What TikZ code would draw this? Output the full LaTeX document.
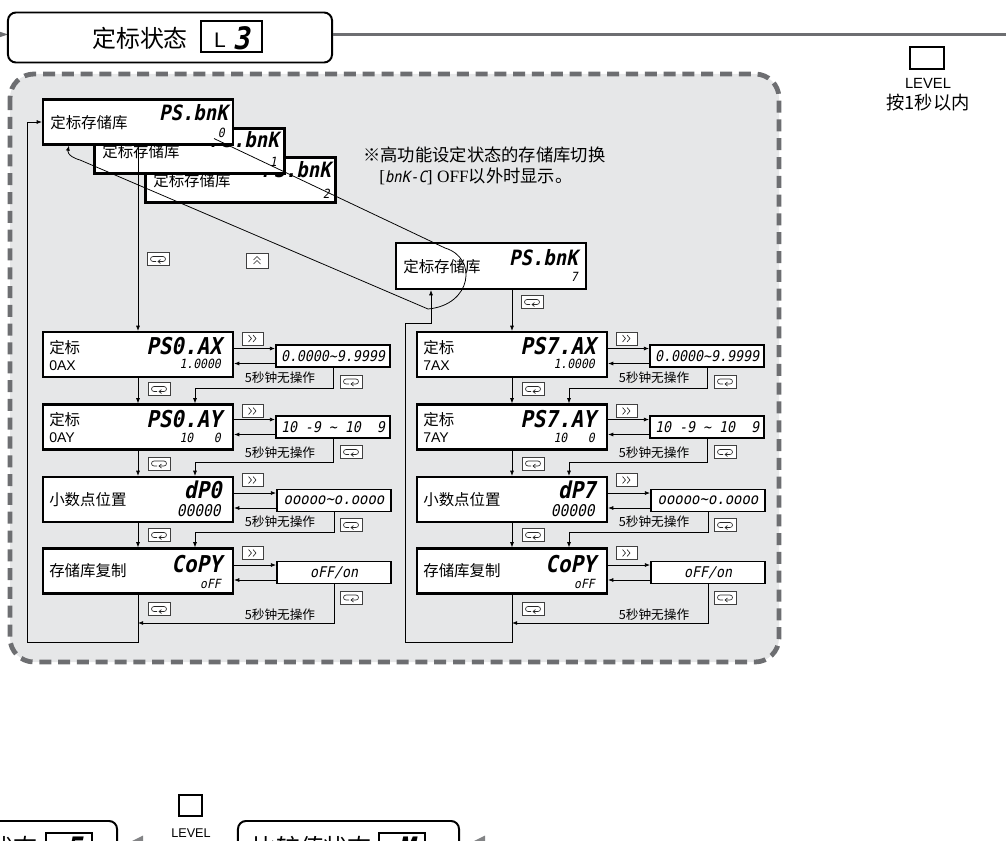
\documentclass[tikz,border=0pt]{standalone}
\usepackage{fontspec}
\setmainfont{Liberation Sans}
\newfontfamily\cjk{Noto Sans CJK SC}
\newfontfamily\serif{Liberation Serif}
\newfontfamily\segf{DejaVu Sans Mono}[FakeSlant=0.2,FakeStretch=0.9]
\usetikzlibrary{arrows.meta,calc}
\definecolor{bggray}{HTML}{E6E7E8}
\definecolor{dgray}{HTML}{6D6E71}

\newcommand\retkey[2]{%
  \node[key] (#1) at (#2) {};
  \begin{scope}[shift={(#1.center)}]
    \draw[sym] (5,-2.5) -- (-5,-2.5) arc[start angle=270,end angle=90,radius=2.5] -- (-2,2.5);
    \draw[sym] (5,-2.5) arc[start angle=270,end angle=450,radius=2.5] -- (0,2.5);
    \draw[sym] (2.5,0.5) -- (0,2.5) -- (2.5,4.5);
  \end{scope}}
\newcommand\fwkey[2]{%
  \node[key, minimum width=0.525cm] (#1) at (#2) {};
  \begin{scope}[shift={(#1.center)}]
    \draw[sym] (-4,-3.5) -- (-1,0) -- (-4,3.5) (0.5,-3.5) -- (3.5,0) -- (0.5,3.5);
  \end{scope}}
\newcommand\upkey[2]{%
  \node[key, minimum height=0.375cm] (#1) at (#2) {};
  \begin{scope}[shift={(#1.center)}]
    \draw[sym] (-3.5,-0.5) -- (0,-4) -- (3.5,-0.5) (-3.5,3.5) -- (0,0) -- (3.5,3.5);
  \end{scope}}

\begin{document}
\begin{tikzpicture}[x=0.025cm,y=-0.025cm,
  disp/.style={draw, line width=1.5pt, fill=white, inner sep=0pt, minimum width=4.75cm, minimum height=1.125cm},
  valbox/.style={draw, line width=1.3pt, fill=white, inner sep=0pt, minimum width=2.85cm, minimum height=0.55cm},
  key/.style={draw=black!75, line width=0.6pt, fill=white, inner sep=0pt, minimum width=0.55cm, minimum height=0.325cm},
  sym/.style={line width=0.45pt, black!85},
  conn/.style={line width=0.55pt, -{Latex[length=1.3mm,width=1mm]}},
  cjklab/.style={font=\cjk\fontsize{11}{13}\selectfont, inner sep=0pt, anchor=west},
  lat/.style={font=\fontsize{10}{12}\selectfont, inner sep=0pt, anchor=west},
  segL/.style={font=\segf\bfseries\fontsize{16.5}{17}\selectfont, inner sep=0pt, anchor=east},
  segB/.style={font=\segf\bfseries\fontsize{15}{16}\selectfont, inner sep=0pt, anchor=east},
  segS/.style={font=\segf\fontsize{9}{10}\selectfont, inner sep=0pt, anchor=east},
  segV/.style={font=\segf\fontsize{10.5}{11}\selectfont, inner sep=0pt},
  noop/.style={font=\cjk\fontsize{9}{10}\selectfont, inner sep=0pt},
  stbox/.style={draw, line width=1.4pt, rounded corners=0.2cm, fill=white, inner sep=0pt},
  segbox/.style={draw, line width=1pt, fill=white, inner sep=0pt, minimum width=1.15cm, minimum height=1.175cm},
]
\useasboundingbox (0,0) rectangle (1006,841);
\clip (0,0) rectangle (1006,841);

% ---------- dashed area ----------
\draw[line width=3.4pt, draw=dgray, fill=bggray, dash pattern=on 0.3cm off 0.17cm, rounded corners=0.6cm] (10,74) rectangle (779,662);

% ---------- header ----------
\fill[dgray] (-4,30.5) -- (8,34.5) -- (-4,38.5) -- cycle;
\node[stbox, minimum width=8.1cm, minimum height=1.25cm] (hdr) at (170,37.5) {};
\coordinate (hlEnd) at (1010,34.5);
\draw[line width=2.8pt, dgray] (hlEnd -| hdr.east) -- (hlEnd);
\node[font=\cjk\fontsize{17}{19}\selectfont, inner sep=0pt] (hdrt) at (140,38) {定标状态};
\node[draw, line width=1pt, minimum width=1.525cm, minimum height=0.775cm, inner sep=0pt] (hseg) at (231.5,36.5) {};
\node[font=\fontsize{15}{16}\selectfont, inner sep=0pt] (hL) at (220,40.5) {L};
\node[font=\segf\bfseries\fontsize{22}{22}\selectfont, inner sep=0pt] (h3) at (241,38.5) {3};

% ---------- LEVEL (top right) ----------
\node[draw, line width=0.8pt, minimum width=0.85cm, minimum height=0.55cm, inner sep=0pt] (lvk) at (927,58) {};
\node[font=\fontsize{10.5}{12}\selectfont, inner sep=0pt] (lvt) at (928,83) {LEVEL};
\node[font=\cjk\fontsize{13}{15}\selectfont, inner sep=0pt] (lvn) at (928,103) {按1秒以内};

% ---------- bank boxes ----------
\node[disp] (bank2) at (240.5,180) {};
\node[cjklab] (bank2t) at (153,181) {定标存储库};
\node[segB] (bank2s) at (331,170) {PS.bnK};
\node[segS] (bank2n) at (330,194) {2};
\node[disp] (bank1) at (189.5,151) {};
\node[cjklab] (bank1t) at (102,152) {定标存储库};
\node[segB] (bank1s) at (279,140) {PS.bnK};
\node[segS] (bank1n) at (277,162) {1};
\node[disp] (bank0) at (138,122) {};
\node[cjklab] (bank0t) at (50,123) {定标存储库};
\node[segB] (bank0s) at (228,113) {PS.bnK};
\node[segS] (bank0n) at (225,133) {0};
\node[disp, minimum height=1.15cm] (bank7) at (491,266) {};
\node[cjklab] (bank7t) at (403,267) {定标存储库};
\node[segB] (bank7s) at (578,258) {PS.bnK};
\node[segS] (bank7n) at (578,277) {7};

% ---------- note ----------
\node[font=\cjk\fontsize{12.3}{14}\selectfont, inner sep=0pt, anchor=west] (note1) at (363,155) {※高功能设定状态的存储库切换};
\node[font=\fontsize{12.3}{14}\selectfont, inner sep=0pt, anchor=west] (note2) at (379,176)
  {{\serif[}{\segf\fontsize{11}{12}\selectfont bnK-C}{\serif] OFF}{\cjk 以外时显示。}};

% ---------- left column ----------
\node[disp] (r1) at (138,354.5) {};
\node[cjklab] (r1t) at (49,347.5) {定标};
\node[lat] (r1u) at (49,365.5) {0AX};
\node[segL] (r1s) at (222,346.5) {PS0.AX};
\node[segS] (r1v) at (221,363.5) {1.0000};

\node[disp] (r2) at (138,427) {};
\node[cjklab] (r2t) at (49,420) {定标};
\node[lat] (r2u) at (49,438) {0AY};
\node[segL] (r2s) at (222,419) {PS0.AY};
\node[segS] (r2v) at (221,437.5) {10\ \ \ 0};

\node[disp] (r3) at (138,499.5) {};
\node[cjklab] (r3t) at (49,500) {小数点位置};
\node[segL] (r3s) at (222,490) {dP0};
\node[segS, font=\segf\fontsize{11.5}{12}\selectfont] (r3v) at (221,511) {00000};

\node[disp] (r4) at (138,571) {};
\node[cjklab] (r4t) at (49,571) {存储库复制};
\node[segL] (r4s) at (222,564) {CoPY};
\node[segS] (r4v) at (221,584) {oFF};

\node[valbox] (v1) at (333,356) {};
\node[segV] (v1t) at (333,356) {0.0000\textasciitilde9.9999};
\node[valbox] (v2) at (333,427) {};
\node[segV] (v2t) at (333,427) {10\ -9\ \textasciitilde\ 10\ \ 9};
\node[valbox] (v3) at (334,500.5) {};
\node[segV, font=\segf\fontsize{11}{12}\selectfont] (v3t) at (334,500.5) {ooooo\textasciitilde{}o.oooo};
\node[valbox] (v4) at (334,572.5) {};
\node[segV] (v4t) at (334,572.5) {oFF/on};

% ---------- right column ----------
\node[disp] (s1) at (512,354.5) {};
\node[cjklab] (s1t) at (423,347.5) {定标};
\node[lat] (s1u) at (423,365.5) {7AX};
\node[segL] (s1s) at (596,346.5) {PS7.AX};
\node[segS] (s1v) at (595,363.5) {1.0000};

\node[disp] (s2) at (512,427) {};
\node[cjklab] (s2t) at (423,420) {定标};
\node[lat] (s2u) at (423,438) {7AY};
\node[segL] (s2s) at (596,419) {PS7.AY};
\node[segS] (s2v) at (595,437.5) {10\ \ \ 0};

\node[disp] (s3) at (512,499.5) {};
\node[cjklab] (s3t) at (423,500) {小数点位置};
\node[segL] (s3s) at (596,490) {dP7};
\node[segS, font=\segf\fontsize{11.5}{12}\selectfont] (s3v) at (595,511) {00000};

\node[disp] (s4) at (512,571) {};
\node[cjklab] (s4t) at (423,571) {存储库复制};
\node[segL] (s4s) at (596,564) {CoPY};
\node[segS] (s4v) at (595,584) {oFF};

\node[valbox] (w1) at (707,356) {};
\node[segV] (w1t) at (707,356) {0.0000\textasciitilde9.9999};
\node[valbox] (w2) at (707,427) {};
\node[segV] (w2t) at (707,427) {10\ -9\ \textasciitilde\ 10\ \ 9};
\node[valbox] (w3) at (708,500.5) {};
\node[segV, font=\segf\fontsize{11}{12}\selectfont] (w3t) at (708,500.5) {ooooo\textasciitilde{}o.oooo};
\node[valbox] (w4) at (708,572.5) {};
\node[segV] (w4t) at (708,572.5) {oFF/on};

% ---------- "5 s no operation" labels ----------
\node[noop] (n1) at (280,378) {5秒钟无操作};
\node[noop] (n2) at (280,453) {5秒钟无操作};
\node[noop] (n3) at (280,522) {5秒钟无操作};
\node[noop] (n4) at (280,615) {5秒钟无操作};
\node[noop] (m1) at (654,378) {5秒钟无操作};
\node[noop] (m2) at (654,453) {5秒钟无操作};
\node[noop] (m3) at (654,522) {5秒钟无操作};
\node[noop] (m4) at (654,615) {5秒钟无操作};

% ---------- connectors: left column ----------
\draw[conn] (bank0.south) -- (r1.north);
\draw[conn] (r1.south) -- (r2.north);
\draw[conn] (r2.south) -- (r3.north);
\draw[conn] (r3.south) -- (r4.north);
\coordinate (lb1) at (138,642);
\coordinate (lb2) at (27,642);
\draw[conn] (r4.south) -- (lb1) -- (lb2) |- (bank0.west);

\foreach \r/\v in {r1/v1,r2/v2,r3/v3,r4/v4,s1/w1,s2/w2,s3/w3,s4/w4}{
  \coordinate (\v o) at ($(\v.west)+(0,-7.5)$);
  \coordinate (\v b) at ($(\v.west)+(0,7.5)$);
  \draw[conn] (\r.east |- \v o) -- (\v o);
  \draw[conn] (\v b) -- (\r.east |- \v b);
}
\coordinate (j1) at (195,388);
\coordinate (j2) at (195,462);
\coordinate (j3) at (195,532);
\coordinate (j4) at (138,623);
\draw[conn] (v1.south) |- (j1) -- (j1 |- r2.north);
\draw[conn] (v2.south) |- (j2) -- (j2 |- r3.north);
\draw[conn] (v3.south) |- (j3) -- (j3 |- r4.north);
\draw[conn] (v4.south) |- (j4);

% ---------- connectors: right column ----------
\draw[conn] (s1.north |- bank7.south) -- (s1.north);
\draw[conn] (s1.south) -- (s2.north);
\draw[conn] (s2.south) -- (s3.north);
\draw[conn] (s3.south) -- (s4.north);
\coordinate (rb1) at (512,642);
\coordinate (rb2) at (405,642);
\coordinate (rb3) at (431,323);
\draw[conn] (s4.south) -- (rb1) -- (rb2) |- (rb3) -- (rb3 |- bank7.south);
\coordinate (k1) at (569,388);
\coordinate (k2) at (569,462);
\coordinate (k3) at (569,532);
\coordinate (k4) at (512,623);
\draw[conn] (w1.south) |- (k1) -- (k1 |- s2.north);
\draw[conn] (w2.south) |- (k2) -- (k2 |- s3.north);
\draw[conn] (w3.south) |- (k3) -- (k3 |- s4.north);
\draw[conn] (w4.south) |- (k4);

% ---------- bank loop ----------
\coordinate (lpA) at ($(bank0.south east)+(-20,-7)$);
\coordinate (lpB) at (445,248);
\coordinate (lpC) at (428,309);
\coordinate (lpD) at (80,160);
\coordinate (lpE) at ($(bank0.south west)+(27,0)$);
\draw[conn] (lpA) -- (lpB) .. controls (478,258) and (472,305) .. (lpC) -- (lpD) .. controls (66,156) and (68,150) .. (lpE);

% ---------- keys ----------
\retkey{kb0}{158,259}
\upkey{kup}{257,260.5}
\retkey{kb7}{532,302}
\fwkey{f1}{252.5,338.5}
\fwkey{f2}{252.5,411}
\fwkey{f3}{252.5,480}
\fwkey{f4}{252.5,553}
\fwkey{g1}{626.5,338.5}
\fwkey{g2}{626.5,411}
\fwkey{g3}{626.5,480}
\fwkey{g4}{626.5,553}
\retkey{rr1}{351,381.5}
\retkey{rr2}{351,452}
\retkey{rr3}{351,525}
\retkey{rr4}{351,597.5}
\retkey{rl1}{159,389}
\retkey{rl2}{159,463.5}
\retkey{rl3}{159,535}
\retkey{rl4}{159,609}
\retkey{tr1}{725,381.5}
\retkey{tr2}{725,452}
\retkey{tr3}{725,525}
\retkey{tr4}{725,597.5}
\retkey{tl1}{533,389}
\retkey{tl2}{533,463.5}
\retkey{tl3}{533,535}
\retkey{tl4}{533,609}

% ---------- bottom states ----------
\node[stbox, minimum width=3.925cm, minimum height=1.725cm] (bl) at (38.5,855.5) {};
\node[font=\cjk\fontsize{17}{19}\selectfont, inner sep=0pt, anchor=east] (blt) at (38,847) {状态};
\node[segbox] (bls) at (69,856.5) {};
\node[font=\segf\bfseries\fontsize{22}{22}\selectfont, inner sep=0pt] (bl5) at (74,848) {5};
\fill[dgray!85] (130,842) -- (143,835.5) -- (143,848.5) -- cycle;
\node[draw, line width=0.8pt, minimum width=0.575cm, minimum height=0.525cm, inner sep=0pt] (lvk2) at (190.5,805.5) {};
\node[font=\fontsize{9}{10}\selectfont, inner sep=0pt] (lvt2) at (191,833) {LEVEL};
\node[stbox, minimum width=5.525cm, minimum height=1.725cm] (br) at (348.5,855.5) {};
\node[font=\cjk\fontsize{17}{19}\selectfont, inner sep=0pt, anchor=east] (brt) at (372,847) {比较值状态};
\node[segbox] (brs) at (402,856.5) {};
\node[font=\segf\bfseries\fontsize{22}{22}\selectfont, inner sep=0pt] (brm) at (406,848) {M};
\fill[dgray!85] (472,842) -- (485,835.5) -- (485,848.5) -- cycle;
\end{tikzpicture}
\end{document}
